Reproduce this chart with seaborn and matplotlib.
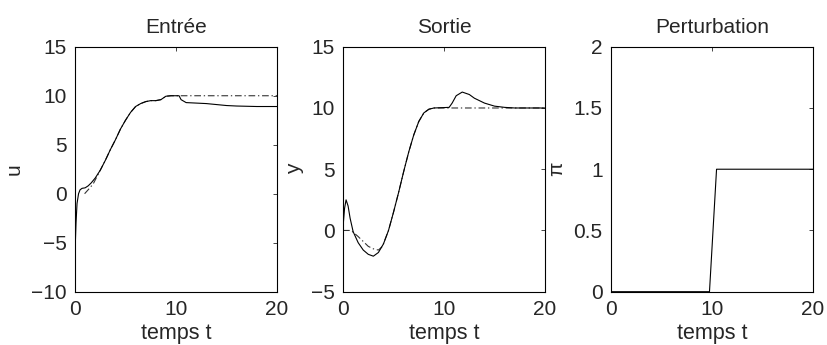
import numpy as np
import pandas as pd
import matplotlib
matplotlib.use("Agg")
import matplotlib.pyplot as plt
import seaborn as sns

# Entrée : commande u (trait plein) et consigne (tiret-point)
t_u = [0, 0.1, 0.2, 0.35, 0.5, 0.7, 1.0, 1.3, 1.6, 2.0, 2.5, 3.0, 3.5, 4.0, 4.5,
       5.0, 5.5, 6.0, 6.5, 7.0, 7.5, 8.0, 8.5, 9.0, 9.5, 10.3, 10.5, 11.0, 12.0,
       13.0, 14.0, 15.0, 16.0, 18.0, 20.0]
u = [-6.0, -3.0, -1.0, 0.0, 0.4, 0.55, 0.6, 0.8, 1.1, 1.6, 2.4, 3.4, 4.5, 5.5, 6.6,
     7.5, 8.3, 8.9, 9.2, 9.4, 9.5, 9.5, 9.6, 9.95, 10.0, 10.0, 9.6, 9.3, 9.25,
     9.2, 9.1, 9.0, 8.95, 8.9, 8.9]
t_u_ref = [0.95, 1.3, 1.8, 2.5, 3.0, 3.5, 4.0, 4.5, 5.0, 5.5, 6.0, 6.5, 7.0, 7.5,
           8.0, 8.5, 9.0, 9.5, 20.0]
u_ref = [0.0, 0.4, 1.0, 2.4, 3.4, 4.5, 5.5, 6.6, 7.5, 8.3, 8.9, 9.2, 9.4, 9.5,
         9.5, 9.6, 9.95, 10.0, 10.0]

# Sortie : y (trait plein) et trajectoire de référence (tiret-point)
t_y = [0, 0.15, 0.3, 0.5, 0.7, 1.0, 1.5, 2.0, 2.5, 3.0, 3.5, 4.0, 4.5, 5.0, 5.5,
       6.0, 6.5, 7.0, 7.5, 8.0, 8.5, 9.0, 10.5, 10.8, 11.2, 11.8, 12.5, 13.0,
       14.0, 15.0, 16.0, 17.0, 20.0]
y = [0.3, 1.8, 2.5, 2.0, 1.0, -0.1, -1.0, -1.6, -1.95, -2.1, -1.8, -1.1, 0.0, 1.5,
     3.1, 4.8, 6.4, 7.8, 8.9, 9.6, 9.9, 10.0, 10.05, 10.4, 11.0, 11.3, 11.1, 10.8,
     10.4, 10.15, 10.05, 10.0, 10.0]
t_y_ref = [0, 0.8, 1.5, 2.0, 2.5, 3.0, 3.5, 3.9, 4.5, 5.0, 5.5, 6.0, 6.5, 7.0,
           7.5, 8.0, 8.5, 9.0, 20.0]
y_ref = [0.0, 0.0, -0.5, -0.9, -1.3, -1.5, -1.6, -1.3, 0.0, 1.5, 3.1, 4.8, 6.4,
         7.8, 8.9, 9.6, 9.9, 10.0, 10.0]

# Perturbation
t_pi = [0, 9.75, 10.45, 20]
pi_val = [0, 0, 1, 1]

titres = ["Entrée", "Sortie", "Perturbation"]
ylabels = ["u", "y", "π"]
ylims = [(-10, 15), (-5, 15), (0, 2)]
yticks = [[-10, -5, 0, 5, 10, 15], [-5, 0, 5, 10, 15], [0, 0.5, 1, 1.5, 2]]

sns.set_style("white")
plt.rcParams["font.family"] = ["Liberation Sans", "DejaVu Sans"]
plt.rcParams["font.size"] = 15

fig = plt.figure(figsize=(8.27, 3.45), dpi=100)
lefts = [0.0907, 0.4148, 0.7388]
axes = [fig.add_axes([l, 0.1545, 0.2443, 0.710]) for l in lefts]

dashdot = (0, (6, 2.5, 1.2, 2.5))

ax = axes[0]
sns.lineplot(x=t_u_ref, y=u_ref, ax=ax, color="#333333", lw=0.8, linestyle=dashdot,
             estimator=None, sort=False)
sns.lineplot(x=t_u, y=u, ax=ax, color="k", lw=0.8, estimator=None, sort=False)

ax = axes[1]
sns.lineplot(x=t_y_ref, y=y_ref, ax=ax, color="#333333", lw=0.8, linestyle=dashdot,
             estimator=None, sort=False)
sns.lineplot(x=t_y, y=y, ax=ax, color="k", lw=0.8, estimator=None, sort=False)

ax = axes[2]
sns.lineplot(x=t_pi, y=pi_val, ax=ax, color="k", lw=0.8, estimator=None, sort=False)

for ax, titre, yl, lim, tk in zip(axes, titres, ylabels, ylims, yticks):
    ax.set_xlim(0, 20)
    ax.set_ylim(*lim)
    ax.set_xticks([0, 10, 20])
    ax.set_yticks(tk)
    ax.set_yticklabels([f"{v:g}".replace("-", "\u2212") for v in tk])
    ax.set_title(titre, fontsize=15, pad=10)
    ax.set_xlabel("temps t", fontsize=15.5, labelpad=3)
    ax.set_ylabel(yl, fontsize=15, labelpad=5)
    ax.tick_params(direction="in", length=3, width=0.6, top=True, right=True,
                   labelsize=15, pad=6)
    for s in ax.spines.values():
        s.set_visible(True)
        s.set_color("k")
        s.set_linewidth(0.8)

fig.savefig("out.png", dpi=100, facecolor="white")
